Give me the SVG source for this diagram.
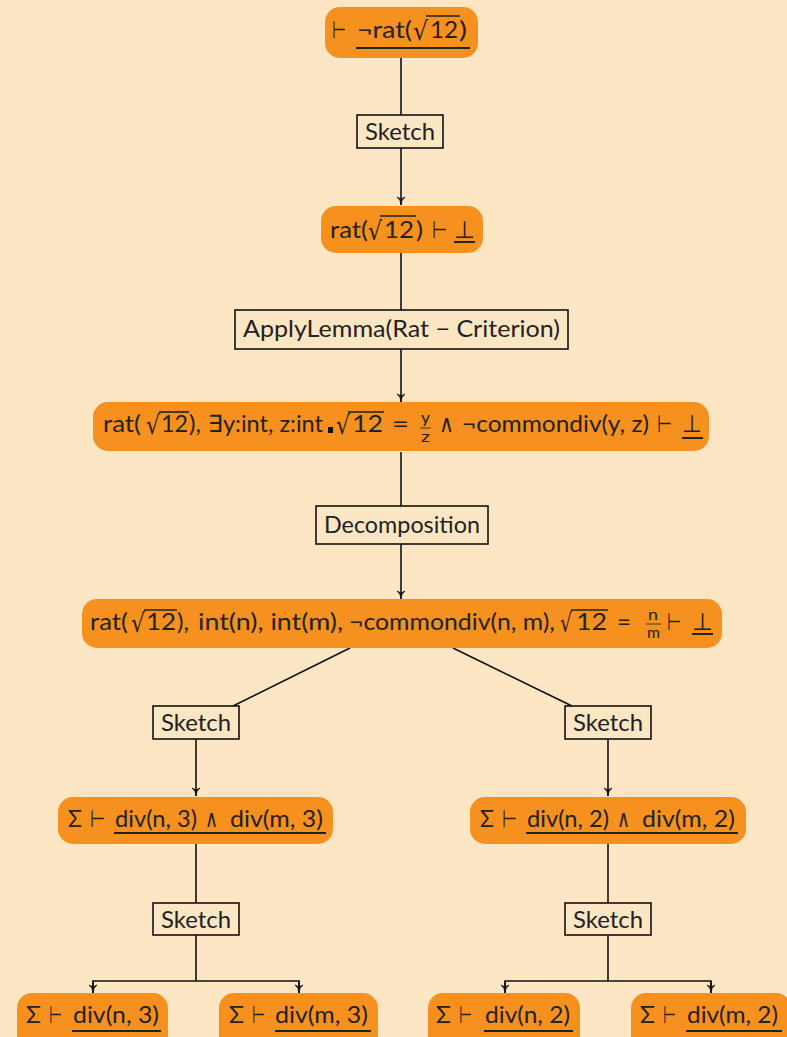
<svg xmlns="http://www.w3.org/2000/svg" width="787" height="1037" viewBox="0 0 787 1037">
<style>
.bg{fill:#FDE6C3}
.n{fill:#F6901E}
.b{fill:#FDE6C3;stroke:#111;stroke-width:1.6}
text{font-family:Lato,"DejaVu Sans",sans-serif;font-size:24px;fill:#222}
.s{font-size:15px}
.r{font-family:"DejaVu Sans",sans-serif;font-size:26px}
.u{stroke:#222;stroke-width:2}
.o{stroke:#222;stroke-width:1.6}
.c{stroke:#111;stroke-width:1.6;fill:none}
</style>
<defs>
<marker id="a" markerUnits="userSpaceOnUse" markerWidth="10" markerHeight="10" viewBox="0 0 10 10" refX="5" refY="9" orient="0">
<path d="M1,1 Q5,4 5,9 Q5,4 9,1 L5,3 Z" fill="#111" stroke="#111" stroke-width="0.8"/>
</marker>
</defs>
<rect class="bg" width="787" height="1037"/>
<g id="connectors">
<line class="c" x1="401" y1="58" x2="401" y2="115"/>
<line class="c" x1="401" y1="148" x2="401" y2="205" marker-end="url(#a)"/>
<line class="c" x1="401" y1="253" x2="401" y2="310"/>
<line class="c" x1="401" y1="349" x2="401" y2="402" marker-end="url(#a)"/>
<line class="c" x1="401" y1="452" x2="401" y2="506"/>
<line class="c" x1="401" y1="544" x2="401" y2="599" marker-end="url(#a)"/>
<line class="c" x1="350" y1="648" x2="233" y2="706"/>
<line class="c" x1="453" y1="648" x2="572" y2="706"/>
<line class="c" x1="196" y1="739" x2="196" y2="796" marker-end="url(#a)"/>
<line class="c" x1="196" y1="844" x2="196" y2="903"/>
<line class="c" x1="196" y1="935" x2="196" y2="981"/>
<polyline class="c" points="93,992 93,981 299,981 299,992"/>
<line class="c" x1="93" y1="981" x2="93" y2="993" marker-end="url(#a)"/>
<line class="c" x1="299" y1="981" x2="299" y2="993" marker-end="url(#a)"/>
<line class="c" x1="608" y1="739" x2="608" y2="796" marker-end="url(#a)"/>
<line class="c" x1="608" y1="844" x2="608" y2="903"/>
<line class="c" x1="608" y1="935" x2="608" y2="981"/>
<polyline class="c" points="505,992 505,981 711,981 711,992"/>
<line class="c" x1="505" y1="981" x2="505" y2="993" marker-end="url(#a)"/>
<line class="c" x1="711" y1="981" x2="711" y2="993" marker-end="url(#a)"/>
</g>
<g id="n1">
<rect class="n" x="325" y="7" width="153" height="51" rx="15"/>
<text x="332" y="38" textLength="14" lengthAdjust="spacingAndGlyphs">⊢</text>
<text x="357" y="38" textLength="55" lengthAdjust="spacingAndGlyphs">¬rat(</text>
<text class="r" x="413" y="40" textLength="15" lengthAdjust="spacingAndGlyphs">√</text>
<text x="430" y="38" textLength="28" lengthAdjust="spacingAndGlyphs">12</text>
<text x="459" y="38" textLength="8" lengthAdjust="spacingAndGlyphs">)</text>
<line class="o" x1="426" y1="16" x2="460" y2="16"/>
<line class="u" x1="356" y1="48" x2="470" y2="48"/>
</g>
<g id="s1">
<rect class="b" x="357" y="115" width="86" height="33"/>
<text x="400" y="140" text-anchor="middle" textLength="70" lengthAdjust="spacingAndGlyphs">Sketch</text>
</g>
<g id="n2">
<rect class="n" x="321" y="206" width="162" height="47" rx="15"/>
<text x="330" y="238" textLength="38" lengthAdjust="spacingAndGlyphs">rat(</text>
<text class="r" x="368" y="240" textLength="14" lengthAdjust="spacingAndGlyphs">√</text>
<text x="384" y="238" textLength="30" lengthAdjust="spacingAndGlyphs">12</text>
<text x="416" y="238" textLength="7" lengthAdjust="spacingAndGlyphs">)</text>
<text x="432" y="238" textLength="15" lengthAdjust="spacingAndGlyphs">⊢</text>
<text x="454" y="238" textLength="21" lengthAdjust="spacingAndGlyphs">⊥</text>
<line class="o" x1="380" y1="216" x2="416" y2="216"/>
<line class="u" x1="454" y1="242" x2="475" y2="242"/>
</g>
<g id="s2">
<rect class="b" x="235" y="310" width="333" height="39"/>
<text x="243" y="337" textLength="317" lengthAdjust="spacingAndGlyphs">ApplyLemma(Rat − Criterion)</text>
</g>
<g id="n3">
<rect class="n" x="93" y="402" width="616" height="49" rx="15"/>
<text x="103" y="432" textLength="38" lengthAdjust="spacingAndGlyphs">rat(</text>
<text class="r" x="146" y="434" textLength="14" lengthAdjust="spacingAndGlyphs">√</text>
<text x="161" y="432" textLength="27" lengthAdjust="spacingAndGlyphs">12</text>
<text x="189" y="432" textLength="12" lengthAdjust="spacingAndGlyphs">),</text>
<text x="208" y="432" textLength="115" lengthAdjust="spacingAndGlyphs">∃y:int, z:int</text>
<rect x="328" y="427" width="5" height="6" fill="#111"/>
<text class="r" x="336" y="434" textLength="14" lengthAdjust="spacingAndGlyphs">√</text>
<text x="352" y="432" textLength="31" lengthAdjust="spacingAndGlyphs">12</text>
<text x="392" y="432" textLength="17" lengthAdjust="spacingAndGlyphs">=</text>
<text class="s" x="421" y="423" textLength="9" lengthAdjust="spacingAndGlyphs">y</text>
<line x1="420" y1="428" x2="431" y2="428" stroke="#222" stroke-width="0.8"/>
<text class="s" x="421" y="442" textLength="9" lengthAdjust="spacingAndGlyphs">z</text>
<text x="439" y="432" textLength="15" lengthAdjust="spacingAndGlyphs">∧</text>
<text x="462" y="432" textLength="187" lengthAdjust="spacingAndGlyphs">¬commondiv(y, z)</text>
<text x="657" y="432" textLength="15" lengthAdjust="spacingAndGlyphs">⊢</text>
<text x="682" y="432" textLength="20" lengthAdjust="spacingAndGlyphs">⊥</text>
<line class="o" x1="159" y1="412" x2="189" y2="412"/>
<line class="o" x1="348" y1="412" x2="384" y2="412"/>
<line class="u" x1="682" y1="438" x2="703" y2="438"/>
</g>
<g id="s3">
<rect class="b" x="316" y="506" width="172" height="38"/>
<text x="324" y="533" textLength="156" lengthAdjust="spacingAndGlyphs">Decomposition</text>
</g>
<g id="n4">
<rect class="n" x="82" y="599" width="640" height="49" rx="15"/>
<text x="90" y="630" textLength="38" lengthAdjust="spacingAndGlyphs">rat(</text>
<text class="r" x="131" y="632" textLength="14" lengthAdjust="spacingAndGlyphs">√</text>
<text x="146" y="630" textLength="30" lengthAdjust="spacingAndGlyphs">12</text>
<text x="177" y="630" textLength="12" lengthAdjust="spacingAndGlyphs">),</text>
<text x="198" y="630" textLength="145" lengthAdjust="spacingAndGlyphs">int(n), int(m),</text>
<text x="349" y="630" textLength="206" lengthAdjust="spacingAndGlyphs">¬commondiv(n, m),</text>
<text class="r" x="560" y="632" textLength="12" lengthAdjust="spacingAndGlyphs">√</text>
<text x="576" y="630" textLength="31" lengthAdjust="spacingAndGlyphs">12</text>
<text x="617" y="630" textLength="14" lengthAdjust="spacingAndGlyphs">=</text>
<text class="s" x="648" y="620" textLength="10" lengthAdjust="spacingAndGlyphs">n</text>
<line x1="646" y1="624" x2="661" y2="624" stroke="#222" stroke-width="0.8"/>
<text class="s" x="647" y="638" textLength="13" lengthAdjust="spacingAndGlyphs">m</text>
<text x="667" y="630" textLength="14" lengthAdjust="spacingAndGlyphs">⊢</text>
<text x="692" y="630" textLength="21" lengthAdjust="spacingAndGlyphs">⊥</text>
<line class="o" x1="144" y1="610" x2="177" y2="610"/>
<line class="o" x1="571" y1="610" x2="608" y2="610"/>
<line class="u" x1="692" y1="634" x2="713" y2="634"/>
</g>
<g id="s4">
<rect class="b" x="153" y="706" width="86" height="33"/>
<text x="196" y="731" text-anchor="middle" textLength="70" lengthAdjust="spacingAndGlyphs">Sketch</text>
</g>
<g id="s5">
<rect class="b" x="565" y="706" width="86" height="33"/>
<text x="608" y="731" text-anchor="middle" textLength="70" lengthAdjust="spacingAndGlyphs">Sketch</text>
</g>
<g id="n5">
<rect class="n" x="58" y="797" width="275" height="47" rx="15"/>
<text x="68" y="827" textLength="14" lengthAdjust="spacingAndGlyphs">Σ</text>
<text x="90" y="827" textLength="15" lengthAdjust="spacingAndGlyphs">⊢</text>
<text x="115" y="827" textLength="82" lengthAdjust="spacingAndGlyphs">div(n, 3)</text>
<text x="205" y="827" textLength="13" lengthAdjust="spacingAndGlyphs">∧</text>
<text x="230" y="827" textLength="93" lengthAdjust="spacingAndGlyphs">div(m, 3)</text>
<line class="u" x1="114" y1="833" x2="326" y2="833"/>
</g>
<g id="n6">
<rect class="n" x="470" y="797" width="276" height="47" rx="15"/>
<text x="480" y="827" textLength="14" lengthAdjust="spacingAndGlyphs">Σ</text>
<text x="502" y="827" textLength="15" lengthAdjust="spacingAndGlyphs">⊢</text>
<text x="527" y="827" textLength="82" lengthAdjust="spacingAndGlyphs">div(n, 2)</text>
<text x="617" y="827" textLength="13" lengthAdjust="spacingAndGlyphs">∧</text>
<text x="642" y="827" textLength="93" lengthAdjust="spacingAndGlyphs">div(m, 2)</text>
<line class="u" x1="526" y1="833" x2="738" y2="833"/>
</g>
<g id="s6">
<rect class="b" x="153" y="903" width="86" height="32"/>
<text x="196" y="928" text-anchor="middle" textLength="70" lengthAdjust="spacingAndGlyphs">Sketch</text>
</g>
<g id="s7">
<rect class="b" x="565" y="903" width="86" height="32"/>
<text x="608" y="928" text-anchor="middle" textLength="70" lengthAdjust="spacingAndGlyphs">Sketch</text>
</g>
<g id="n7">
<rect class="n" x="17" y="993" width="151" height="60" rx="15"/>
<text x="26" y="1023" textLength="15" lengthAdjust="spacingAndGlyphs">Σ</text>
<text x="49" y="1023" textLength="13" lengthAdjust="spacingAndGlyphs">⊢</text>
<text x="73" y="1023" textLength="86" lengthAdjust="spacingAndGlyphs">div(n, 3)</text>
<line class="u" x1="72" y1="1031" x2="161" y2="1031"/>
</g>
<g id="n8">
<rect class="n" x="219" y="993" width="159" height="60" rx="15"/>
<text x="229" y="1023" textLength="15" lengthAdjust="spacingAndGlyphs">Σ</text>
<text x="252" y="1023" textLength="13" lengthAdjust="spacingAndGlyphs">⊢</text>
<text x="275" y="1023" textLength="93" lengthAdjust="spacingAndGlyphs">div(m, 3)</text>
<line class="u" x1="275" y1="1031" x2="371" y2="1031"/>
</g>
<g id="n9">
<rect class="n" x="428" y="993" width="152" height="60" rx="15"/>
<text x="436" y="1023" textLength="15" lengthAdjust="spacingAndGlyphs">Σ</text>
<text x="459" y="1023" textLength="13" lengthAdjust="spacingAndGlyphs">⊢</text>
<text x="485" y="1023" textLength="85" lengthAdjust="spacingAndGlyphs">div(n, 2)</text>
<line class="u" x1="484" y1="1031" x2="573" y2="1031"/>
</g>
<g id="n10">
<rect class="n" x="631" y="993" width="160" height="60" rx="15"/>
<text x="640" y="1023" textLength="15" lengthAdjust="spacingAndGlyphs">Σ</text>
<text x="663" y="1023" textLength="13" lengthAdjust="spacingAndGlyphs">⊢</text>
<text x="687" y="1023" textLength="91" lengthAdjust="spacingAndGlyphs">div(m, 2)</text>
<line class="u" x1="686" y1="1031" x2="782" y2="1031"/>
</g>
</svg>
